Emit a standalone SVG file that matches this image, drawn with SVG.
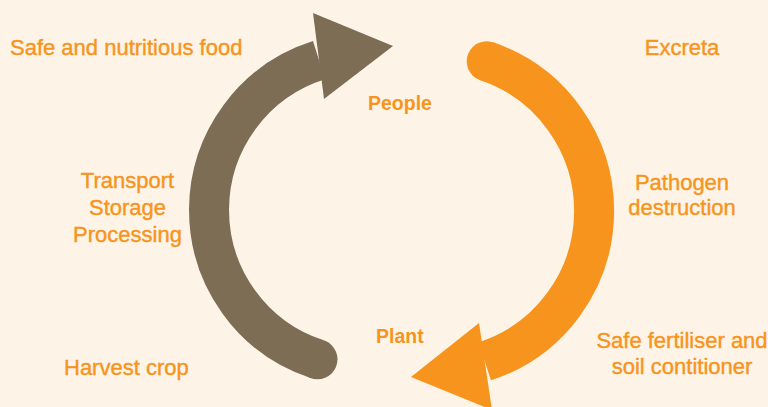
<svg xmlns="http://www.w3.org/2000/svg" width="768" height="407" viewBox="0 0 768 407">
  <style>
    .lbl { font-family: "Liberation Sans", Arial, sans-serif; font-size: 22px; fill: #f7941d; stroke: #f7941d; stroke-width: 0.4; }
    .key { font-family: "Liberation Sans", Arial, sans-serif; font-size: 19.5px; font-weight: bold; fill: #f7941d; }
    .mid { text-anchor: middle; }
    .food { fill: none; stroke: #7d6d55; stroke-width: 40; }
    .waste { fill: none; stroke: #f7941d; stroke-width: 40; }
  </style>
  <rect width="768" height="407" fill="#fdf4e7"/>

  <g id="connectors">
    <!-- food cycle: harvest up to people -->
    <path class="food" d="M 317.5 359.3 A 157 157 0 0 1 319 60.2"/>
    <circle cx="317.5" cy="359.3" r="20" fill="#7d6d55"/>
    <polygon points="313,13 393,46 324,99" fill="#7d6d55"/>
    <!-- excreta cycle: people down to plant -->
    <path class="waste" d="M 486.7 61.3 A 158 158 0 0 1 484.8 361.3"/>
    <circle cx="486.7" cy="61.3" r="20" fill="#f7941d"/>
    <polygon points="479,323 411,377 492,410" fill="#f7941d"/>
  </g>

  <g id="food">
    <text class="lbl" x="10" y="55">Safe and nutritious food</text>
  </g>
  <g id="excreta">
    <text class="lbl mid" x="682" y="55">Excreta</text>
  </g>
  <g id="people">
    <text class="key" x="368" y="110">People</text>
  </g>
  <g id="handling">
    <text class="lbl mid" x="127.5" y="188">Transport</text>
    <text class="lbl mid" x="127.5" y="215">Storage</text>
    <text class="lbl mid" x="127.5" y="242">Processing</text>
  </g>
  <g id="pathogen">
    <text class="lbl mid" x="682" y="190">Pathogen</text>
    <text class="lbl mid" x="682" y="215">destruction</text>
  </g>
  <g id="plant">
    <text class="key" x="376" y="343">Plant</text>
  </g>
  <g id="fertiliser">
    <text class="lbl mid" x="682" y="348">Safe fertiliser and</text>
    <text class="lbl mid" x="682" y="374">soil contitioner</text>
  </g>
  <g id="harvest">
    <text class="lbl" x="64" y="375">Harvest crop</text>
  </g>
</svg>
